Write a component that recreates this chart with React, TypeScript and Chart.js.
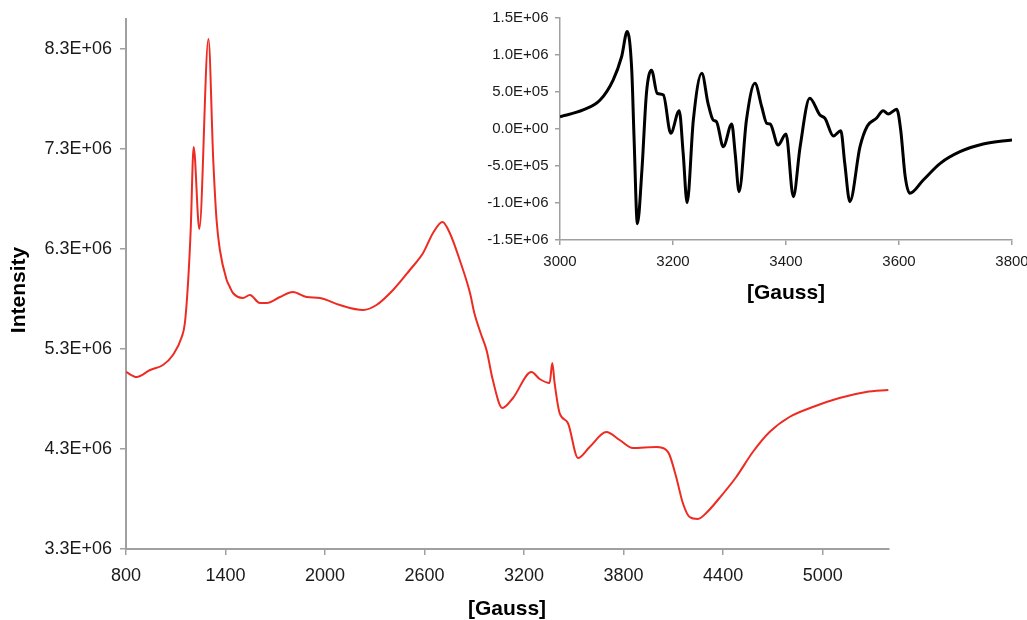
import React, { useEffect, useRef } from 'react';
import { Chart, registerables } from 'chart.js';

Chart.register(...registerables);

// ---------- main spectrum (red) ----------
const mainField = [
  800, 864, 945, 1023, 1083, 1136, 1155, 1175, 1190, 1208, 1242, 1297, 1326, 1346, 1366,
  1407, 1426, 1445, 1505, 1547, 1607, 1648, 1728, 1806, 1889, 1969, 2089, 2230, 2310,
  2410, 2511, 2591, 2651, 2708, 2752, 2812, 2874, 2900, 2940, 2975, 3010, 3069, 3133,
  3244, 3294, 3354, 3370, 3384, 3414, 3464, 3525, 3595, 3696, 3776, 3856, 3997, 4057,
  4077, 4117, 4157, 4198, 4248, 4298, 4378, 4479, 4579, 4680, 4800, 4940, 5101, 5262, 5396,
];
const mainIntensity = [
  5.07e6, 5.02e6, 5.09e6, 5.14e6, 5.24e6, 5.42e6, 5.56e6, 5.99e6, 6.49e6, 7.32e6, 6.5e6,
  8.4e6, 7.19e6, 6.59e6, 6.29e6, 5.99e6, 5.92e6, 5.86e6, 5.81e6, 5.84e6, 5.76e6, 5.76e6,
  5.82e6, 5.87e6, 5.82e6, 5.81e6, 5.74e6, 5.69e6, 5.74e6, 5.89e6, 6.09e6, 6.26e6, 6.46e6,
  6.57e6, 6.46e6, 6.19e6, 5.86e6, 5.66e6, 5.45e6, 5.28e6, 5.0e6, 4.71e6, 4.81e6, 5.07e6,
  5.0e6, 4.96e6, 5.16e6, 4.96e6, 4.66e6, 4.56e6, 4.21e6, 4.32e6, 4.47e6, 4.39e6, 4.31e6,
  4.32e6, 4.29e6, 4.24e6, 4.02e6, 3.76e6, 3.62e6, 3.6e6, 3.66e6, 3.81e6, 4.02e6, 4.27e6,
  4.47e6, 4.62e6, 4.72e6, 4.81e6, 4.87e6, 4.89e6,
];
const mainXTicks = [800, 1400, 2000, 2600, 3200, 3800, 4400, 5000];
const mainYTicks = [3.3e6, 4.3e6, 5.3e6, 6.3e6, 7.3e6, 8.3e6];

// ---------- inset spectrum (black) ----------
const insetField = [
  3000, 3041, 3071, 3094, 3109, 3119, 3127, 3131, 3137, 3145, 3153, 3162, 3172, 3183, 3196,
  3211, 3218, 3225, 3236, 3251, 3262, 3271, 3277, 3289, 3304, 3310, 3317, 3330, 3345, 3357,
  3366, 3372, 3386, 3400, 3413, 3425, 3442, 3460, 3469, 3484, 3497, 3504, 3513, 3531, 3544,
  3560, 3572, 3581, 3596, 3603, 3611, 3619, 3643, 3673, 3708, 3749, 3800,
];
const insetSignal = [
  0.162e6, 0.253e6, 0.388e6, 0.657e6, 0.971e6, 1.31e6, 0.79e6, -0.107e6, -1.28e6, -0.556e6,
  0.478e6, 0.79e6, 0.478e6, 0.455e6, -0.061e6, 0.243e6, -0.33e6, -0.997e6, 0.118e6, 0.747e6,
  0.343e6, 0.118e6, 0.095e6, -0.242e6, 0.064e6, -0.33e6, -0.849e6, 0.118e6, 0.612e6, 0.297e6,
  0.073e6, 0.064e6, -0.219e6, -0.071e6, -0.916e6, -0.242e6, 0.41e6, 0.185e6, 0.141e6,
  -0.098e6, -0.026e6, -0.466e6, -0.983e6, -0.242e6, 0.037e6, 0.141e6, 0.243e6, 0.199e6,
  0.262e6, -0.017e6, -0.646e6, -0.871e6, -0.691e6, -0.466e6, -0.309e6, -0.206e6, -0.15e6,
];
const insetXTicks = [3000, 3200, 3400, 3600, 3800];
const insetYTicks = [-1.5e6, -1.0e6, -5e5, 0, 5e5, 1.0e6, 1.5e6];

const FONT = '"Liberation Sans", Arial, Helvetica, sans-serif';

function sci(v: number): string {
  if (Math.abs(v) < 1e-9) return '0.0E+00';
  const a = Math.abs(v);
  let exp = Math.floor(Math.log10(a) + 1e-9);
  let mant = v / Math.pow(10, exp);
  let s = mant.toFixed(1);
  if (Math.abs(parseFloat(s)) >= 10) {
    exp += 1;
    s = (v / Math.pow(10, exp)).toFixed(1);
  }
  const e = Math.abs(exp).toString().padStart(2, '0');
  return s + 'E' + (exp >= 0 ? '+' : '-') + e;
}

type TitleItem = { text: string; x: number; y: number; rot: number };

function titlesPlugin(items: TitleItem[]) {
  return {
    id: 'axisTitles',
    afterDraw(chart: any) {
      const ctx = chart.ctx as CanvasRenderingContext2D;
      ctx.save();
      ctx.fillStyle = '#000';
      ctx.font = 'bold 21px ' + FONT;
      ctx.textAlign = 'center';
      ctx.textBaseline = 'middle';
      for (const it of items) {
        ctx.save();
        ctx.translate(it.x, it.y);
        ctx.rotate(it.rot);
        ctx.fillText(it.text, 0, 0);
        ctx.restore();
      }
      ctx.restore();
    },
  };
}

function toPoints(xs: number[], ys: number[]) {
  return xs.map((x, i) => ({ x, y: ys[i] }));
}

export default function App() {
  const mainRef = useRef<HTMLCanvasElement>(null);
  const insetRef = useRef<HTMLCanvasElement>(null);

  useEffect(() => {
    const axisColor = '#a0a0a0';
    const mainChart = new Chart(mainRef.current as HTMLCanvasElement, {
      type: 'line',
      data: {
        datasets: [
          {
            data: toPoints(mainField, mainIntensity),
            borderColor: '#ee2b22',
            borderWidth: 2,
            pointRadius: 0,
            cubicInterpolationMode: 'monotone',
            fill: false,
          },
        ],
      },
      options: {
        animation: false,
        responsive: false,
        devicePixelRatio: 1,
        events: [],
        layout: { padding: { left: 0, top: 19, right: 138, bottom: 0 } },
        plugins: { legend: { display: false }, tooltip: { enabled: false } },
        scales: {
          x: {
            type: 'linear',
            min: 800,
            max: 5400,
            afterFit: (s: any) => {
              s.height = 71;
            },
            afterBuildTicks: (s: any) => {
              s.ticks = mainXTicks.map((v) => ({ value: v }));
            },
            grid: { drawOnChartArea: false, drawTicks: true, tickLength: 6, color: axisColor, lineWidth: 1.5 },
            border: { color: axisColor, width: 2 },
            ticks: {
              color: '#1a1a1a',
              font: { family: FONT, size: 18 },
              padding: 10,
              maxRotation: 0,
              autoSkip: false,
              callback: (v: any) => String(v),
            },
          },
          y: {
            type: 'linear',
            min: 3.3e6,
            max: 8.6e6,
            afterFit: (s: any) => {
              s.width = 126;
            },
            afterBuildTicks: (s: any) => {
              s.ticks = mainYTicks.map((v) => ({ value: v }));
            },
            grid: { drawOnChartArea: false, drawTicks: true, tickLength: 6, color: axisColor, lineWidth: 1.5 },
            border: { color: axisColor, width: 2 },
            ticks: {
              color: '#1a1a1a',
              font: { family: FONT, size: 18 },
              padding: 8,
              autoSkip: false,
              callback: (v: any) => sci(Number(v)),
            },
          },
        },
      },
      plugins: [
        titlesPlugin([
          { text: '[Gauss]', x: 507, y: 609, rot: 0 },
          { text: 'Intensity', x: 19, y: 290, rot: -Math.PI / 2 },
        ]),
      ],
    } as any);

    const insetChart = new Chart(insetRef.current as HTMLCanvasElement, {
      type: 'line',
      data: {
        datasets: [
          {
            data: toPoints(insetField, insetSignal),
            borderColor: '#000',
            borderWidth: 3,
            pointRadius: 0,
            cubicInterpolationMode: 'monotone',
            fill: false,
          },
        ],
      },
      options: {
        animation: false,
        responsive: false,
        devicePixelRatio: 1,
        events: [],
        layout: { padding: { left: 0, top: 17.5, right: 28, bottom: 0 } },
        plugins: { legend: { display: false }, tooltip: { enabled: false } },
        scales: {
          x: {
            type: 'linear',
            min: 3000,
            max: 3800,
            afterFit: (s: any) => {
              s.height = 90;
            },
            afterBuildTicks: (s: any) => {
              s.ticks = insetXTicks.map((v) => ({ value: v }));
            },
            grid: { drawOnChartArea: false, drawTicks: true, tickLength: 5, color: axisColor, lineWidth: 1.5 },
            border: { color: axisColor, width: 1.5 },
            ticks: {
              color: '#1a1a1a',
              font: { family: FONT, size: 15 },
              padding: 8,
              maxRotation: 0,
              autoSkip: false,
              callback: (v: any) => String(v),
            },
          },
          y: {
            type: 'linear',
            min: -1.5e6,
            max: 1.5e6,
            afterFit: (s: any) => {
              s.width = 90;
            },
            afterBuildTicks: (s: any) => {
              s.ticks = insetYTicks.map((v) => ({ value: v }));
            },
            grid: { drawOnChartArea: false, drawTicks: true, tickLength: 5, color: axisColor, lineWidth: 1.5 },
            border: { color: axisColor, width: 1.5 },
            ticks: {
              color: '#1a1a1a',
              font: { family: FONT, size: 15 },
              padding: 6.5,
              autoSkip: false,
              callback: (v: any) => sci(Number(v)),
            },
          },
        },
      },
      plugins: [titlesPlugin([{ text: '[Gauss]', x: 316, y: 293, rot: 0 }])],
    } as any);

    return () => {
      mainChart.destroy();
      insetChart.destroy();
    };
  }, []);

  return (
    <div
      style={{
        position: 'fixed',
        left: 0,
        top: 0,
        width: 1027,
        height: 620,
        overflow: 'hidden',
        background: '#fff',
      }}
    >
      <canvas
        ref={mainRef}
        width={1027}
        height={620}
        style={{ position: 'absolute', left: 0, top: 0, width: 1027, height: 620 }}
      />
      <canvas
        ref={insetRef}
        width={570}
        height={330}
        style={{ position: 'absolute', left: 470, top: 0, width: 570, height: 330 }}
      />
    </div>
  );
}
